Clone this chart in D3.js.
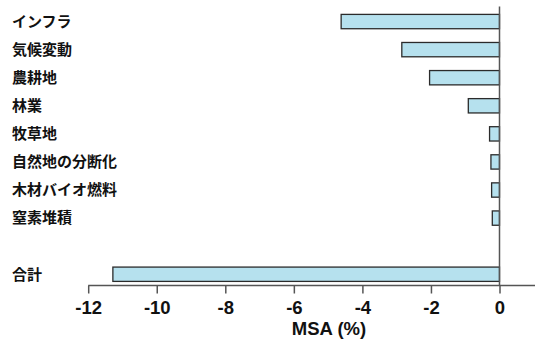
<!DOCTYPE html>
<html><head><meta charset="utf-8">
<script src="https://cdn.jsdelivr.net/npm/d3@7"></script>
<style>body{margin:0;background:#fff}</style>
</head><body>
<svg id="c" width="536" height="343"></svg>
<script>
const categories = ["インフラ","気候変動","農耕地","林業","牧草地","自然地の分断化","木材バイオ燃料","窒素堆積","","合計"];
const values = [-4.62,-2.85,-2.04,-0.91,-0.29,-0.25,-0.23,-0.21,null,-11.28];
const tickValues = [-12,-10,-8,-6,-4,-2,0];
const xLabel = "MSA (%)";

const svg = d3.select("#c");
const x = d3.scaleLinear().domain([-12,0]).range([88.2,499.5]);
const y = d3.scaleBand().domain(d3.range(categories.length)).range([14.4,281.4]).paddingInner(0.49).paddingOuter(0);

// bars
svg.selectAll("rect.bar").data(values.map((v,i)=>({v,i})).filter(d=>d.v!==null))
 .enter().append("rect")
 .attr("x",d=>x(d.v)).attr("y",d=>y(d.i))
 .attr("width",d=>x(0)-x(d.v)).attr("height",y.bandwidth())
 .attr("fill","#b6e1ee").attr("stroke","#2b2b2b").attr("stroke-width",1.3);

// labels
svg.selectAll("text.cat").data(categories).enter().append("text")
 .attr("x",12).attr("y",(d,i)=>y(i)+y.bandwidth()/2)
 .attr("dy","0.36em")
 .attr("font-family","'Noto Sans CJK JP'").attr("font-size",15).attr("font-weight",600)
 .attr("fill","#111").text(d=>d);

// zero line
svg.append("line").attr("x1",x(0)).attr("x2",x(0)).attr("y1",6.5).attr("y2",285.5)
 .attr("stroke","#555").attr("stroke-width",1.5);

// x axis
const ax = svg.append("g").attr("transform","translate(0,285.5)")
 .call(d3.axisBottom(x).tickValues(tickValues).tickSize(8).tickSizeOuter(0).tickFormat(d3.format("d")));
ax.select(".domain").remove();
ax.append("line").attr("x1",x(-12)).attr("x2",535).attr("stroke","#555").attr("stroke-width",1.5);
ax.selectAll(".tick line").attr("stroke","#555").attr("stroke-width",1.5);
ax.selectAll(".tick text").attr("fill","#111").attr("font-family","'Liberation Sans'").attr("font-weight","bold")
 .attr("font-size",18.5).attr("y",0).attr("dy",0)
 .attr("transform","translate(0,28.7)").text(d=>d<0?"-"+Math.abs(d):d);

svg.append("text").attr("x",329).attr("y",335).attr("text-anchor","middle")
 .attr("font-family","'Liberation Sans'").attr("font-weight","bold").attr("font-size",18.5)
 .attr("fill","#111").text(xLabel);
</script>
</body></html>
